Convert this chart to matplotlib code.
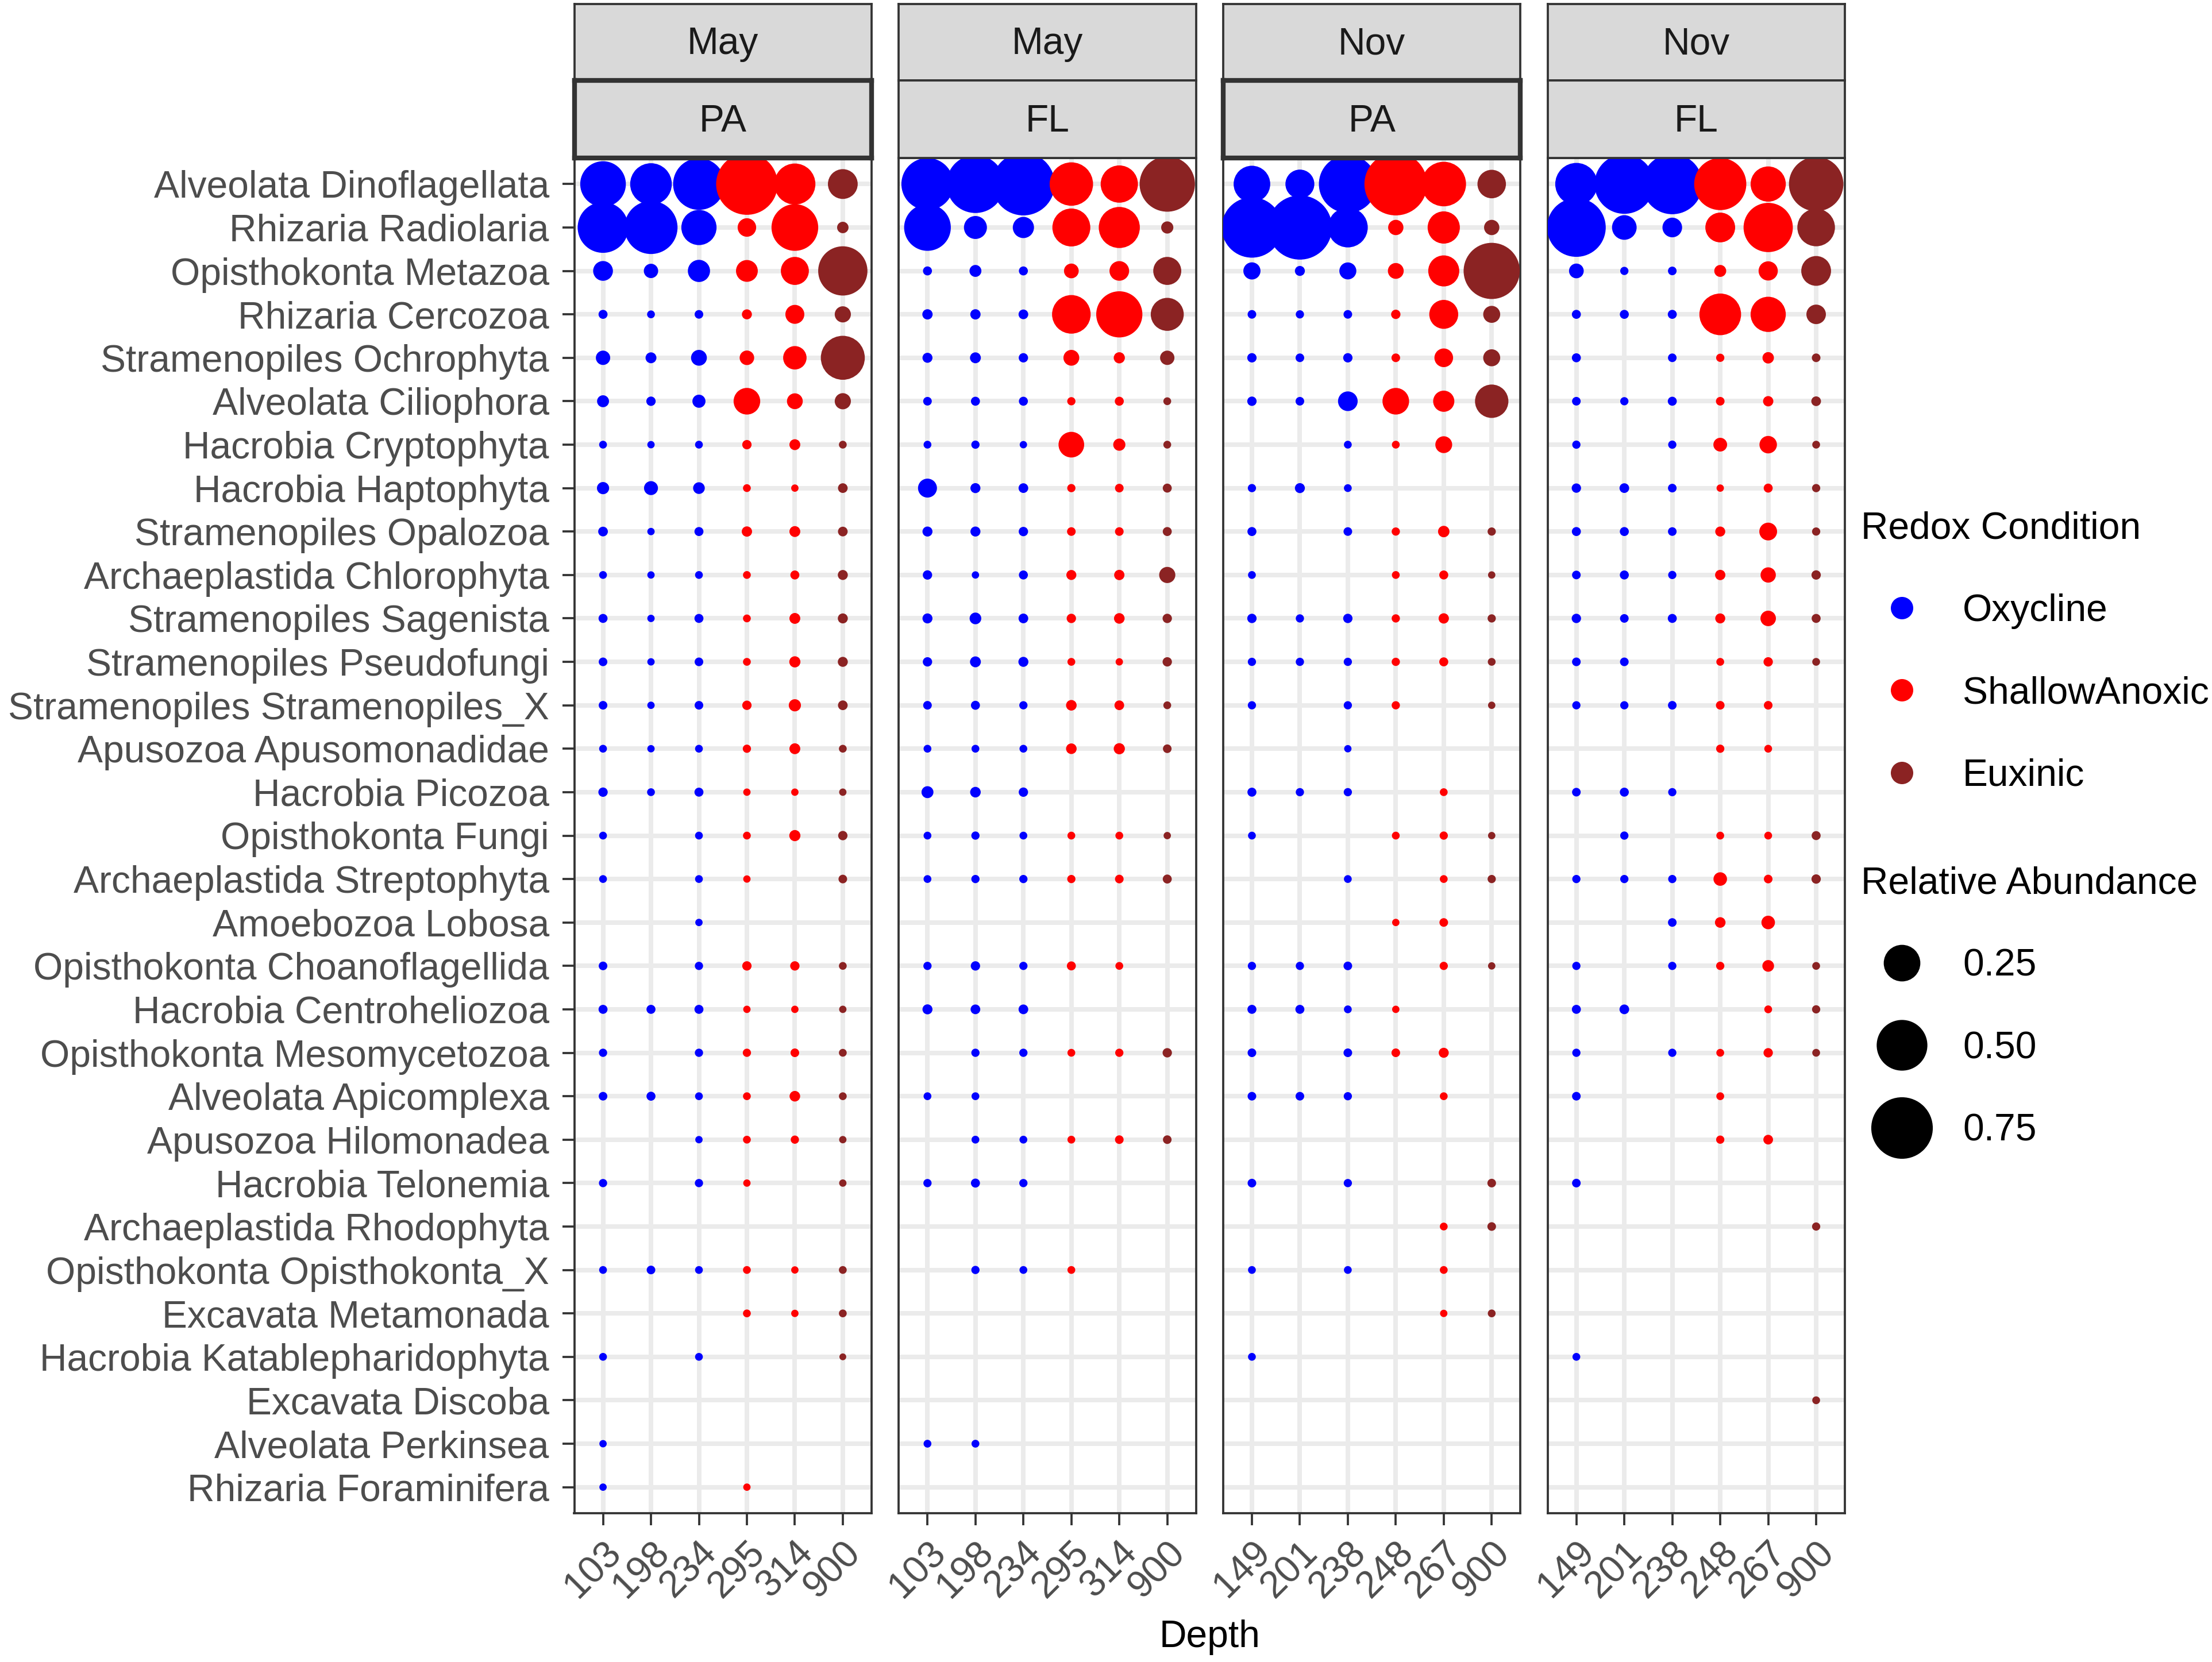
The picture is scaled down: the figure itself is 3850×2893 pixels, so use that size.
import numpy as np
import matplotlib
matplotlib.use('Agg')
import matplotlib.pyplot as plt
from matplotlib.lines import Line2D

plt.rcParams['font.family'] = ['Liberation Sans', 'DejaVu Sans']

# ---------------- data ----------------
taxa = [
    "Alveolata Dinoflagellata", "Rhizaria Radiolaria", "Opisthokonta Metazoa",
    "Rhizaria Cercozoa", "Stramenopiles Ochrophyta", "Alveolata Ciliophora",
    "Hacrobia Cryptophyta", "Hacrobia Haptophyta", "Stramenopiles Opalozoa",
    "Archaeplastida Chlorophyta", "Stramenopiles Sagenista", "Stramenopiles Pseudofungi",
    "Stramenopiles Stramenopiles_X", "Apusozoa Apusomonadidae", "Hacrobia Picozoa",
    "Opisthokonta Fungi", "Archaeplastida Streptophyta", "Amoebozoa Lobosa",
    "Opisthokonta Choanoflagellida", "Hacrobia Centroheliozoa", "Opisthokonta Mesomycetozoa",
    "Alveolata Apicomplexa", "Apusozoa Hilomonadea", "Hacrobia Telonemia",
    "Archaeplastida Rhodophyta", "Opisthokonta Opisthokonta_X", "Excavata Metamonada",
    "Hacrobia Katablepharidophyta", "Excavata Discoba", "Alveolata Perkinsea",
    "Rhizaria Foraminifera",
]

months = ["May", "May", "Nov", "Nov"]
fractions = ["PA", "FL", "PA", "FL"]
depths_may = ["103", "198", "234", "295", "314", "900"]
depths_nov = ["149", "201", "238", "248", "267", "900"]
depth_conditions = ["Oxycline", "Oxycline", "Oxycline",
                    "ShallowAnoxic", "ShallowAnoxic", "Euxinic"]
condition_names = ["Oxycline", "ShallowAnoxic", "Euxinic"]
condition_colors = ["#0000FF", "#FF0000", "#8B2323"]
size_breaks = [0.25, 0.50, 0.75]
size_labels = ["0.25", "0.50", "0.75"]

# relative abundance, rows = taxa, columns = depths (0 = absent)
may_pa = [
    [0.40, 0.33, 0.52, 0.75, 0.32, 0.16],
    [0.50, 0.55, 0.23, 0.055, 0.42, 0.017],
    [0.064, 0.03, 0.083, 0.08, 0.14, 0.47],
    [0.009, 0.006, 0.008, 0.012, 0.058, 0.04],
    [0.03, 0.015, 0.038, 0.031, 0.094, 0.37],
    [0.019, 0.01, 0.024, 0.125, 0.038, 0.04],
    [0.006, 0.005, 0.006, 0.01, 0.015, 0.006],
    [0.02, 0.028, 0.018, 0.006, 0.005, 0.011],
    [0.011, 0.005, 0.009, 0.013, 0.015, 0.011],
    [0.006, 0.005, 0.006, 0.006, 0.009, 0.012],
    [0.009, 0.005, 0.009, 0.006, 0.015, 0.012],
    [0.008, 0.005, 0.008, 0.006, 0.016, 0.012],
    [0.008, 0.005, 0.008, 0.01, 0.02, 0.011],
    [0.006, 0.005, 0.006, 0.007, 0.015, 0.006],
    [0.01, 0.006, 0.009, 0.005, 0.005, 0.005],
    [0.006, 0, 0.006, 0.006, 0.016, 0.01],
    [0.006, 0, 0.006, 0.005, 0, 0.008],
    [0, 0, 0.005, 0, 0, 0],
    [0.008, 0, 0.007, 0.01, 0.01, 0.006],
    [0.009, 0.009, 0.009, 0.005, 0.005, 0.005],
    [0.007, 0, 0.007, 0.007, 0.008, 0.006],
    [0.008, 0.009, 0.006, 0.006, 0.014, 0.006],
    [0, 0, 0.005, 0.006, 0.007, 0.005],
    [0.007, 0, 0.007, 0.005, 0, 0.005],
    [0, 0, 0, 0, 0, 0],
    [0.006, 0.008, 0.006, 0.006, 0.005, 0.006],
    [0, 0, 0, 0.006, 0.005, 0.006],
    [0.006, 0, 0.006, 0, 0, 0.004],
    [0, 0, 0, 0, 0, 0],
    [0.005, 0, 0, 0, 0, 0],
    [0.005, 0, 0, 0.005, 0, 0],
]

may_fl = [
    [0.53, 0.66, 0.78, 0.36, 0.26, 0.60],
    [0.42, 0.09, 0.075, 0.27, 0.32, 0.02],
    [0.009, 0.019, 0.009, 0.032, 0.063, 0.14],
    [0.013, 0.013, 0.011, 0.28, 0.41, 0.20],
    [0.012, 0.015, 0.01, 0.038, 0.016, 0.03],
    [0.008, 0.009, 0.009, 0.007, 0.009, 0.006],
    [0.006, 0.007, 0.005, 0.115, 0.02, 0.006],
    [0.058, 0.012, 0.011, 0.007, 0.008, 0.009],
    [0.012, 0.012, 0.01, 0.008, 0.008, 0.009],
    [0.01, 0.005, 0.009, 0.012, 0.013, 0.04],
    [0.012, 0.018, 0.011, 0.01, 0.014, 0.01],
    [0.01, 0.015, 0.012, 0.006, 0.005, 0.01],
    [0.008, 0.009, 0.007, 0.014, 0.011, 0.006],
    [0.006, 0.006, 0.006, 0.014, 0.016, 0.008],
    [0.019, 0.014, 0.01, 0, 0, 0],
    [0.006, 0.007, 0.006, 0.006, 0.006, 0.005],
    [0.006, 0.007, 0.007, 0.007, 0.008, 0.009],
    [0, 0, 0, 0, 0, 0],
    [0.007, 0.01, 0.007, 0.009, 0.006, 0],
    [0.012, 0.011, 0.011, 0, 0, 0],
    [0, 0.007, 0.007, 0.006, 0.007, 0.01],
    [0.006, 0.006, 0, 0, 0, 0],
    [0, 0.006, 0.006, 0.006, 0.008, 0.008],
    [0.007, 0.009, 0.007, 0, 0, 0],
    [0, 0, 0, 0, 0, 0],
    [0, 0.007, 0.006, 0.006, 0, 0],
    [0, 0, 0, 0, 0, 0],
    [0, 0, 0, 0, 0, 0],
    [0, 0, 0, 0, 0, 0],
    [0.006, 0.006, 0, 0, 0, 0],
    [0, 0, 0, 0, 0, 0],
]

nov_pa = [
    [0.25, 0.15, 0.66, 0.78, 0.38, 0.145],
    [0.72, 0.82, 0.30, 0.035, 0.19, 0.035],
    [0.046, 0.012, 0.045, 0.038, 0.175, 0.62],
    [0.008, 0.007, 0.008, 0.01, 0.15, 0.045],
    [0.01, 0.008, 0.01, 0.008, 0.056, 0.045],
    [0.01, 0.008, 0.063, 0.125, 0.075, 0.205],
    [0, 0, 0.006, 0.006, 0.044, 0],
    [0.007, 0.012, 0.006, 0, 0, 0],
    [0.009, 0, 0.008, 0.007, 0.017, 0.007],
    [0.006, 0, 0, 0.006, 0.009, 0.005],
    [0.01, 0.007, 0.01, 0.007, 0.013, 0.007],
    [0.007, 0.007, 0.007, 0.007, 0.009, 0.006],
    [0.007, 0, 0.007, 0.007, 0, 0.005],
    [0, 0, 0.005, 0, 0, 0],
    [0.009, 0.007, 0.007, 0, 0.006, 0],
    [0.006, 0, 0, 0.006, 0.007, 0.005],
    [0, 0, 0.006, 0, 0.006, 0.007],
    [0, 0, 0, 0.005, 0.008, 0],
    [0.007, 0.007, 0.008, 0, 0.007, 0.005],
    [0.009, 0.009, 0.006, 0.005, 0, 0],
    [0.008, 0, 0.008, 0.008, 0.012, 0],
    [0.008, 0.008, 0.007, 0, 0.006, 0],
    [0, 0, 0, 0, 0, 0],
    [0.008, 0, 0.007, 0, 0, 0.008],
    [0, 0, 0, 0, 0.006, 0.008],
    [0.006, 0, 0.006, 0, 0.006, 0],
    [0, 0, 0, 0, 0.005, 0.006],
    [0.006, 0, 0, 0, 0, 0],
    [0, 0, 0, 0, 0, 0],
    [0, 0, 0, 0, 0, 0],
    [0, 0, 0, 0, 0, 0],
]

nov_fl = [
    [0.34, 0.70, 0.72, 0.53, 0.23, 0.58],
    [0.68, 0.105, 0.063, 0.16, 0.47, 0.265],
    [0.032, 0.007, 0.008, 0.019, 0.06, 0.16],
    [0.009, 0.009, 0.009, 0.33, 0.23, 0.062],
    [0.009, 0, 0.008, 0.007, 0.017, 0.008],
    [0.008, 0.007, 0.009, 0.008, 0.013, 0.011],
    [0.007, 0, 0.007, 0.027, 0.048, 0.006],
    [0.01, 0.011, 0.008, 0.005, 0.009, 0.007],
    [0.009, 0.009, 0.008, 0.012, 0.05, 0.007],
    [0.008, 0.009, 0.007, 0.013, 0.035, 0.01],
    [0.01, 0.008, 0.009, 0.012, 0.036, 0.009],
    [0.008, 0.008, 0, 0.006, 0.01, 0.006],
    [0.007, 0.007, 0.008, 0.008, 0.008, 0],
    [0, 0, 0, 0.007, 0.006, 0],
    [0.008, 0.009, 0.007, 0, 0, 0],
    [0, 0.007, 0, 0.006, 0.006, 0.009],
    [0.007, 0.007, 0.007, 0.026, 0.008, 0.01],
    [0, 0, 0.008, 0.014, 0.026, 0],
    [0.007, 0, 0.007, 0.007, 0.018, 0.006],
    [0.009, 0.011, 0, 0, 0.006, 0.007],
    [0.007, 0, 0.007, 0.006, 0.01, 0.006],
    [0.008, 0, 0, 0.006, 0, 0],
    [0, 0, 0, 0.007, 0.011, 0],
    [0.008, 0, 0, 0, 0, 0],
    [0, 0, 0, 0, 0, 0.007],
    [0, 0, 0, 0, 0, 0],
    [0, 0, 0, 0, 0, 0],
    [0.006, 0, 0, 0, 0, 0],
    [0, 0, 0, 0, 0, 0.006],
    [0, 0, 0, 0, 0, 0],
    [0, 0, 0, 0, 0, 0],
]

panel_values = [may_pa, may_fl, nov_pa, nov_fl]
panel_depths = [depths_may, depths_may, depths_nov, depths_nov]

# ---------------- layout / style ----------------
DPI = 300
W, H = 3850, 2893
FS = 15.8
TXT_GREY = "#4D4D4D"
LINE_DARK = "#333333"

fig = plt.figure(figsize=(W / DPI, H / DPI), dpi=DPI)
fig.patch.set_facecolor("white")


def diam_pt(v):
    """marker diameter in points (area-scaled like ggplot scale_size)."""
    return (4.4 + 118.6 * np.sqrt(np.asarray(v, dtype=float))) * 72.0 / DPI


color_of = dict(zip(condition_names, condition_colors))

left0, step, pw = 999.5, 564.7, 517.5
ptop, pbot = 275.0, 2634.0
strip_rows = [(7.0, 140.0), (140.0, 275.0)]

n_taxa = len(taxa)
for p in range(4):
    lpx = left0 + p * step
    ax = fig.add_axes([lpx / W, 1 - pbot / H, pw / W, (pbot - ptop) / H])
    vals = np.array(panel_values[p], dtype=float)
    depths = panel_depths[p]
    ax.set_xlim(-0.6, len(depths) - 0.4)
    ax.set_ylim(n_taxa - 0.4, -0.6)
    ax.set_axisbelow(True)
    ax.grid(True, color="#EBEBEB", linewidth=1.9)
    for j in range(len(depths)):
        col = vals[:, j]
        mask = col > 0
        ax.scatter(np.full(mask.sum(), j), np.arange(n_taxa)[mask],
                   s=diam_pt(col[mask]) ** 2, c=color_of[depth_conditions[j]],
                   linewidths=0, zorder=3)
    ax.set_xticks(range(len(depths)))
    ax.set_xticklabels(depths, rotation=45, ha="right", va="top",
                       rotation_mode="anchor", fontsize=FS, color=TXT_GREY)
    ax.set_yticks(range(n_taxa))
    if p == 0:
        ax.set_yticklabels(taxa, fontsize=FS, color=TXT_GREY)
        ax.tick_params(axis="y", length=5, width=0.9, color=LINE_DARK, pad=5.5)
    else:
        ax.tick_params(axis="y", left=False, labelleft=False)
    ax.tick_params(axis="x", length=5, width=0.9, color=LINE_DARK, pad=4)
    for s in ax.spines.values():
        s.set_color(LINE_DARK)
        s.set_linewidth(0.9)

    # strips
    for k, (y0, y1) in enumerate(strip_rows):
        sax = fig.add_axes([lpx / W, 1 - y1 / H, pw / W, (y1 - y0) / H])
        sax.set_facecolor("#D9D9D9")
        sax.set_xticks([])
        sax.set_yticks([])
        label = months[p] if k == 0 else fractions[p]
        lw = 2.0 if (k == 1 and fractions[p] == "PA") else 0.9
        for s in sax.spines.values():
            s.set_color(LINE_DARK)
            s.set_linewidth(lw)
        sax.text(0.5, 0.47, label, transform=sax.transAxes, ha="center",
                 va="center", fontsize=FS, color="#1A1A1A")

fig.text((left0 + 3 * step + pw + left0) / 2 / W, 1 - 2850 / H, "Depth",
         ha="center", va="center", fontsize=FS, color="black")

# legends
cond_handles = [Line2D([], [], marker="o", linestyle="", color=c,
                       markersize=39 * 72 / DPI, markeredgewidth=0)
                for c in condition_colors]
leg1 = fig.legend(cond_handles, condition_names, title="Redox Condition",
                  loc="upper left", bbox_to_anchor=(3239 / W, 1 - 889 / H),
                  frameon=False, fontsize=FS, title_fontsize=FS, borderpad=0,
                  borderaxespad=0, handlelength=2.16, handletextpad=0.53,
                  labelspacing=1.24, alignment="left")

size_handles = [Line2D([], [], marker="o", linestyle="", color="black",
                       markersize=float(diam_pt(b)), markeredgewidth=0)
                for b in size_breaks]
leg2 = fig.legend(size_handles, size_labels, title="Relative Abundance",
                  loc="upper left", bbox_to_anchor=(3239 / W, 1 - 1507 / H),
                  frameon=False, fontsize=FS, title_fontsize=FS, borderpad=0,
                  borderaxespad=0, handlelength=2.16, handletextpad=0.53,
                  labelspacing=1.24, alignment="left")

fig.savefig("out.png", dpi=DPI, facecolor="white")
